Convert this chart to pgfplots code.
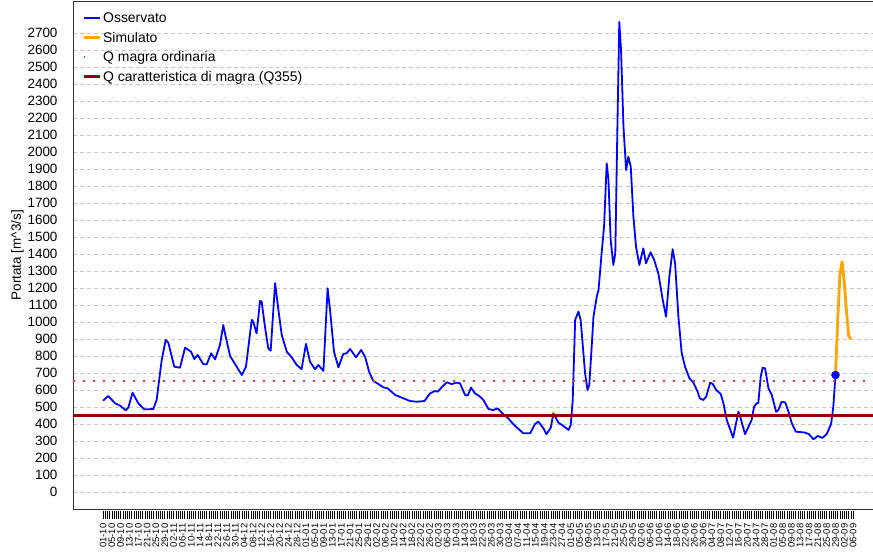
\documentclass[border=0pt]{standalone}
\usepackage{fontspec}
\setmainfont{Liberation Sans}
\usepackage{pgfplots}
\usepackage{pgfplotstable}
\pgfplotsset{compat=1.18}
\definecolor{osserv}{RGB}{0,0,255}
\definecolor{simul}{RGB}{255,165,0}
\definecolor{qord}{RGB}{255,50,50}
\definecolor{qcar}{RGB}{140,0,0}

% giorno (0 = 01-10), portata m^3/s
\pgfplotstableread{
d q
0 537
2.4 565
5.4 522
7.7 508
10.3 480
11.5 498
13.4 584
16 522
18.7 486
22.8 488
24.3 541
26.6 776
28.4 894
29.6 878
32.3 737
34.9 731
37.2 849
39.9 825
41.4 782
42.9 806
45.5 751
47 751
49 816
50.8 780
53 865
54.5 982
55.6 914
57.6 800
60.6 737
62.9 688
64.8 737
67.4 1012
68.1 1002
69.6 933
71.2 1124
71.9 1120
73.4 973
74.9 845
76 831
78 1228
79.5 1071
81 924
83.3 825
85.5 792
87.8 747
90 722
92 871
93.8 767
96.1 722
97.6 747
99.9 712
101.8 1198
102.9 1071
104.7 825
106.7 733
108.9 812
110.4 816
112 841
114.7 792
117 835
118.8 795
120.6 708
122.5 653
124.8 635
127 616
129 610
132.4 571
135.4 555
139.2 535
142.2 531
145.7 535
148.2 580
150.5 594
151.7 590
153.8 620
155.8 645
158 635
160.3 643
161.8 639
164.1 571
165.3 567
166.8 614
168.6 580
170.9 561
172.4 541
174.7 488
176.9 482
178.9 492
180.7 467
183.7 433
186 398
188.3 371
190.5 345
193.6 345
195.8 400
197.3 414
199.6 375
201 340
203 380
204.1 463
206.4 408
208.7 388
211 365
212 394
212.9 541
214 1012
215.5 1061
216.5 1012
218.5 698
219.6 600
220.4 629
221.5 855
222.3 1031
223.8 1149
224.6 1188
226 1404
227.1 1561
228.3 1933
229.1 1835
230.1 1482
231.3 1335
232.2 1404
233.1 2110
234 2766
234.8 2600
235.9 2149
237.1 1894
238.1 1972
239.2 1914
240.4 1619
241.6 1443
243.1 1335
244.9 1433
246.1 1345
248.2 1410
249.8 1365
251.7 1286
253.7 1129
255.2 1031
256.7 1267
258.2 1428
259.3 1345
260.8 1031
262.3 816
263.8 737
265.8 669
267.6 643
269.5 590
270.5 551
272.1 541
273.4 561
275.2 643
276.4 635
277.9 600
280 576
281.2 522
282.7 424
285.6 320
288 472
288.8 443
291 340
294 424
295.1 502
296.3 522
297 522
298.1 678
299 731
300.1 727
301.6 610
303.1 571
305.1 472
306.1 482
307.6 531
309.2 527
310.7 472
312.2 404
314 355
318 350
320 340
322 310
324 330
326 318
328 340
330 400
331 500
332 688
}\osservato

\pgfplotstableread{
d q
332 688
333 1010
334 1280
335 1355
336 1230
337 1060
338 915
339 900
}\simulato

\begin{document}
\begin{tikzpicture}
\begin{axis}[
  at={(73bp,49bp)}, anchor=south west,
  scale only axis, width=800bp, height=507.5bp,
  xmin=-13.6, xmax=349, ymin=-100, ymax=2885,
  axis line style={black!80, line width=0.8bp},
  ytick={0,100,...,2700},
  /pgf/number format/1000 sep={},
  /pgf/number format/assume math mode=true,
  yticklabel style={font=\fontsize{13.5}{13.5}\selectfont, xshift=-4bp},
  ymajorgrids,
  grid style={gray!45, line width=0.6bp, dash pattern=on 4bp off 3bp},
  ytick style={draw=none},
  xtick={0,4,...,340},
  minor xtick={0,1,...,340},
  xticklabels={01-10,05-10,09-10,13-10,17-10,21-10,25-10,29-10,
    02-11,06-11,10-11,14-11,18-11,22-11,26-11,30-11,
    04-12,08-12,12-12,16-12,20-12,24-12,28-12,
    01-01,05-01,09-01,13-01,17-01,21-01,25-01,29-01,
    02-02,06-02,10-02,14-02,18-02,22-02,26-02,
    02-03,06-03,10-03,14-03,18-03,22-03,26-03,30-03,
    03-04,07-04,11-04,15-04,19-04,23-04,27-04,
    01-05,05-05,09-05,13-05,17-05,21-05,25-05,29-05,
    02-06,06-06,10-06,14-06,18-06,22-06,26-06,30-06,
    04-07,08-07,12-07,16-07,20-07,24-07,28-07,
    01-08,05-08,09-08,13-08,17-08,21-08,25-08,29-08,
    02-09,06-09},
  xticklabel style={rotate=90, anchor=east, xshift=-3bp, font=\fontsize{9.5}{9.5}\selectfont},
  xtick style={black, line width=0.6bp, yshift=-2bp},
  tick align=outside, tick pos=left,
  major tick length=8bp, minor tick length=8bp,
  ylabel={Portata [m\textasciicircum 3/s]},
  ylabel style={at={(rel axis cs:-0.0694,0.5)}, anchor=center, font=\fontsize{13.5}{13.5}\selectfont},
  legend style={at={(rel axis cs:0,1)}, anchor=north west, xshift=6bp, yshift=-7bp,
    draw=none, fill=none, font=\fontsize{14}{14}\selectfont, row sep=4bp},
  legend cell align=left,
  legend image code/.code={\draw[#1] (0bp,0bp) -- (16bp,0bp);},
]
\addplot[osserv, line width=1.8bp, line join=round] table[x=d, y=q] {\osservato};
\addlegendentry{Osservato}
\addplot[simul, line width=2.8bp, line join=round] table[x=d, y=q] {\simulato};
\addlegendentry{Simulato}
\addplot[qord, line width=2bp, dash pattern=on 1.8bp off 8.2bp,
  legend image code/.code={\draw[qord, line width=1.6bp] (0bp,0bp) -- (5bp,0bp);}]
  coordinates {(-13.6,655) (349,655)};
\addlegendentry{Q magra ordinaria}
\addplot[qcar, line width=3bp] coordinates {(-13.6,452) (349,452)};
\addlegendentry{Q caratteristica di magra (Q355)}
\addplot[only marks, mark=*, mark size=4bp, osserv, forget plot] coordinates {(332,688)};
\end{axis}
\pgfresetboundingbox
\useasboundingbox (0,0) rectangle (873bp,558bp);
\end{tikzpicture}
\end{document}
